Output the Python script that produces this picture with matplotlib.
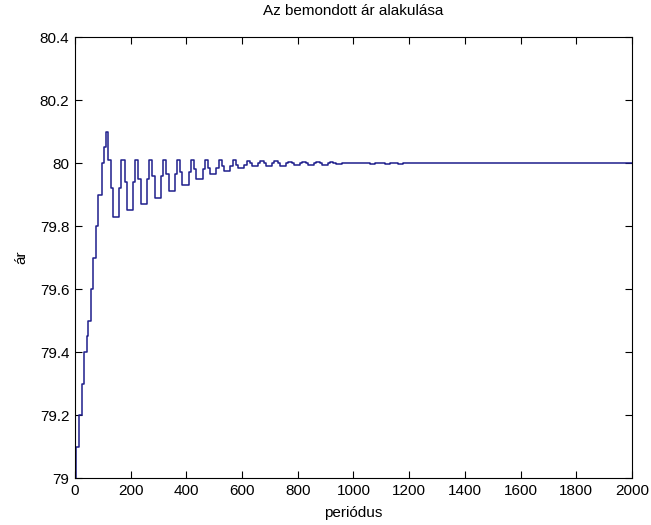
"""
Bemondott ár alakulása – lépcsős idősor (MATLAB-stílusú ábra)
"""
import numpy as np
import matplotlib
matplotlib.use('Agg')
import matplotlib.pyplot as plt
from matplotlib.ticker import FuncFormatter

plt.rcParams['font.family'] = ['Liberation Sans', 'DejaVu Sans']

# Váltási időpontok (periódus) és az ár értéke onnantól
periods = [0, 4, 16, 26, 34, 42, 48, 57, 66, 74, 84, 96, 105, 111,
           120, 128, 138, 158,
           166, 178, 186, 208,
           216, 228, 236, 258,
           266, 278, 286, 308,
           316, 328, 336, 358,
           366, 378, 386, 408,
           416, 428, 436, 458,
           466, 478, 486, 508,
           516, 528, 536, 558,
           566, 578, 586, 608,
           616, 628, 636, 658,
           666, 678, 686, 708,
           716, 728, 736, 758,
           766, 778, 786, 808,
           816, 828, 836, 858,
           866, 878, 886, 908,
           916, 928, 936, 958,
           1060, 1077, 1113, 1131, 1160, 1178, 2000]
prices = [79.0, 79.1, 79.2, 79.3, 79.4, 79.45, 79.5, 79.6, 79.7, 79.8, 79.9, 80.0, 80.05, 80.1,
          80.01, 79.92, 79.83, 79.92,
          80.01, 79.94, 79.85, 79.94,
          80.01, 79.95, 79.87, 79.95,
          80.01, 79.96, 79.89, 79.96,
          80.01, 79.965, 79.91, 79.965,
          80.01, 79.97, 79.93, 79.97,
          80.01, 79.98, 79.95, 79.98,
          80.01, 79.985, 79.965, 79.985,
          80.01, 79.99, 79.975, 79.99,
          80.01, 79.995, 79.985, 79.995,
          80.005, 80.0, 79.99, 80.0,
          80.005, 80.0, 79.99, 80.0,
          80.005, 80.0, 79.99, 80.0,
          80.003, 80.0, 79.993, 80.0,
          80.003, 80.0, 79.993, 80.0,
          80.002, 80.0, 79.995, 80.0,
          80.002, 80.0, 79.996, 80.0,
          79.997, 80.0, 79.997, 80.0, 79.997, 80.0, 80.0]

x_ticks = np.arange(0, 2001, 200)
y_ticks = [79.0, 79.2, 79.4, 79.6, 79.8, 80.0, 80.2, 80.4]

fig = plt.figure(figsize=(6.51, 5.25), dpi=100)
ax = fig.add_axes([0.1152, 0.0895, 0.8556, 0.84])

ax.step(periods, prices, where='post', color='#1e1e8c', linewidth=1.1)

ax.set_xlim(0, 2000)
ax.set_ylim(79, 80.4)
ax.set_xticks(x_ticks)
ax.set_yticks(y_ticks)
ax.yaxis.set_major_formatter(FuncFormatter(lambda v, p: f'{v:g}'))
ax.tick_params(direction='in', length=5, width=0.8, top=True, right=True,
               labelsize=11, colors='black', pad=4)
for s in ax.spines.values():
    s.set_linewidth(0.8)

ax.set_title('Az bemondott ár alakulása', fontsize=11, pad=16)
ax.set_xlabel('periódus', fontsize=11, labelpad=6)
ax.set_ylabel('ár', fontsize=11, labelpad=8)

plt.savefig('out.png', dpi=100)
plt.close()
print("kész: out.png")
